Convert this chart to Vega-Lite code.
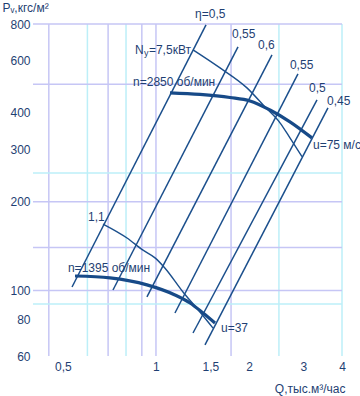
{
  "$schema": "https://vega.github.io/schema/vega-lite/v6.json",
  "width": 309,
  "height": 332,
  "autosize": {"type": "none"},
  "padding": {"left": 33, "top": 24, "right": 18, "bottom": 40},
  "background": "white",
  "config": {
    "view": {"stroke": null},
    "font": "Liberation Sans",
    "axis": {"grid": false, "ticks": false, "domain": false, "labelFont": "Liberation Sans", "labelFontSize": 12, "labelColor": "#1f3f73", "titleFont": "Liberation Sans", "titleFontSize": 12, "titleFontWeight": "normal", "titleColor": "#1f3f73", "labelFlush": false, "labelOverlap": false}
  },
  "datasets": {
    "vgrid": [
      {"Q": 0.45, "k": "p"}, {"Q": 0.6, "k": "c"}, {"Q": 0.7, "k": "p"}, {"Q": 0.8, "k": "c"}, {"Q": 0.9, "k": "p"},
      {"Q": 1, "k": "p"}, {"Q": 1.75, "k": "p"}, {"Q": 2.5, "k": "c"}, {"Q": 4, "k": "c"}
    ],
    "hgrid": [
      {"P": 800, "k": "p"}, {"P": 500, "k": "p"}, {"P": 250, "k": "c"}, {"P": 200, "k": "p"},
      {"P": 140, "k": "p"}, {"P": 100, "k": "p"}, {"P": 90, "k": "c"}
    ],
    "eta": [
      {"id": "a", "Q": 1.452, "P": 794}, {"id": "a", "Q": 0.535, "P": 102.8},
      {"id": "b", "Q": 1.843, "P": 669}, {"id": "b", "Q": 0.726, "P": 100.4},
      {"id": "c", "Q": 2.374, "P": 629}, {"id": "c", "Q": 0.935, "P": 95.1},
      {"id": "d", "Q": 2.881, "P": 542}, {"id": "d", "Q": 1.152, "P": 83.9},
      {"id": "e", "Q": 3.32, "P": 442.5}, {"id": "e", "Q": 1.318, "P": 71.8},
      {"id": "f", "Q": 3.603, "P": 415.7}, {"id": "f", "Q": 1.441, "P": 65.4}
    ],
    "speed": [
      {"n": "2850", "Q": 1.11, "P": 467.6}, {"n": "2850", "Q": 1.388, "P": 462}, {"n": "2850", "Q": 1.736, "P": 451},
      {"n": "2850", "Q": 2.015, "P": 439}, {"n": "2850", "Q": 2.339, "P": 409}, {"n": "2850", "Q": 2.714, "P": 373},
      {"n": "2850", "Q": 3.197, "P": 329},
      {"n": "1395", "Q": 0.547, "P": 112}, {"n": "1395", "Q": 0.71, "P": 110.3}, {"n": "1395", "Q": 0.935, "P": 104.5},
      {"n": "1395", "Q": 1.152, "P": 96.6}, {"n": "1395", "Q": 1.289, "P": 90.7}, {"n": "1395", "Q": 1.42, "P": 83.9},
      {"n": "1395", "Q": 1.553, "P": 77.6}
    ],
    "power": [
      {"N": "7.5", "Q": 1.318, "P": 654}, {"N": "7.5", "Q": 1.612, "P": 568}, {"N": "7.5", "Q": 1.97, "P": 486},
      {"N": "7.5", "Q": 2.253, "P": 419}, {"N": "7.5", "Q": 2.52, "P": 370}, {"N": "7.5", "Q": 2.714, "P": 329},
      {"N": "7.5", "Q": 2.969, "P": 284},
      {"N": "1.1", "Q": 0.674, "P": 168}, {"N": "1.1", "Q": 0.806, "P": 150.7}, {"N": "1.1", "Q": 0.908, "P": 137},
      {"N": "1.1", "Q": 0.993, "P": 129}, {"N": "1.1", "Q": 1.07, "P": 119}, {"N": "1.1", "Q": 1.223, "P": 98.9},
      {"N": "1.1", "Q": 1.388, "P": 84.6}, {"N": "1.1", "Q": 1.53, "P": 74.6}
    ],
    "labels": [
      {"Q": 1.338, "P": 866, "label": "η=0,5"},
      {"Q": 1.762, "P": 741, "label": "0,55"},
      {"Q": 2.139, "P": 680, "label": "0,6"},
      {"Q": 2.714, "P": 582, "label": "0,55"},
      {"Q": 3.127, "P": 486, "label": "0,5"},
      {"Q": 3.577, "P": 439, "label": "0,45"},
      {"Q": 0.843, "P": 509, "label": "n=2850 об/мин"},
      {"Q": 0.603, "P": 177.5, "label": "1,1"},
      {"Q": 0.519, "P": 119, "label": "n=1395 об/мин"},
      {"Q": 3.222, "P": 311.6, "label": "u=75 м/с"},
      {"Q": 1.623, "P": 74.6, "label": "u=37"}
    ],
    "nlabel": [
      {"Q": 0.855, "P": 654, "a": "N", "b": "y", "c": "=7,5кВт"}
    ]
  },
  "layer": [
    {
      "data": {"name": "vgrid"},
      "mark": {"type": "rule", "strokeWidth": 1.5},
      "encoding": {
        "x": {"field": "Q", "type": "quantitative", "scale": {"type": "log", "domain": [0.4, 4], "nice": false},
          "axis": {"values": [0.5, 1, 1.5, 2, 3, 4], "labelExpr": "replace(format(datum.value, '~g'), '.', ',')", "labelPadding": 5, "labelBaseline": "top",
            "title": "Q,тыс.м³/час", "titleX": 312, "titleY": 32, "titleAlign": "right", "titleBaseline": "middle"}},
        "color": {"field": "k", "type": "nominal", "scale": {"domain": ["p", "c"], "range": ["#c6c6f5", "#bdeff8"]}, "legend": null}
      }
    },
    {
      "data": {"name": "hgrid"},
      "mark": {"type": "rule", "strokeWidth": 1.5},
      "encoding": {
        "y": {"field": "P", "type": "quantitative", "scale": {"type": "log", "domain": [60, 800], "nice": false},
          "axis": {"values": [60, 80, 100, 200, 300, 400, 600, 800], "labelPadding": 3,
            "title": "Pᵥ,кгс/м²", "titleAngle": 0, "titleX": -31, "titleY": -17, "titleAlign": "left", "titleBaseline": "middle"}},
        "color": {"field": "k", "type": "nominal", "scale": {"domain": ["p", "c"], "range": ["#c6c6f5", "#bdeff8"]}, "legend": null}
      }
    },
    {
      "data": {"name": "eta"},
      "mark": {"type": "line", "color": "#1b4f8c", "strokeWidth": 1.5},
      "encoding": {
        "x": {"field": "Q", "type": "quantitative", "scale": {"type": "log", "domain": [0.4, 4], "nice": false}},
        "y": {"field": "P", "type": "quantitative", "scale": {"type": "log", "domain": [60, 800], "nice": false}},
        "detail": {"field": "id"}
      }
    },
    {
      "data": {"name": "power"},
      "mark": {"type": "line", "color": "#1b4f8c", "strokeWidth": 1.4, "interpolate": "monotone"},
      "encoding": {
        "x": {"field": "Q", "type": "quantitative", "scale": {"type": "log", "domain": [0.4, 4], "nice": false}},
        "y": {"field": "P", "type": "quantitative", "scale": {"type": "log", "domain": [60, 800], "nice": false}},
        "detail": {"field": "N"}
      }
    },
    {
      "data": {"name": "speed"},
      "mark": {"type": "line", "color": "#174a88", "strokeWidth": 3.2, "interpolate": "monotone"},
      "encoding": {
        "x": {"field": "Q", "type": "quantitative", "scale": {"type": "log", "domain": [0.4, 4], "nice": false}},
        "y": {"field": "P", "type": "quantitative", "scale": {"type": "log", "domain": [60, 800], "nice": false}},
        "detail": {"field": "n"}
      }
    },
    {
      "data": {"name": "labels"},
      "mark": {"type": "text", "align": "left", "baseline": "middle", "fontSize": 12, "color": "#1f3f73", "font": "Liberation Sans"},
      "encoding": {
        "x": {"field": "Q", "type": "quantitative", "scale": {"type": "log", "domain": [0.4, 4], "nice": false}},
        "y": {"field": "P", "type": "quantitative", "scale": {"type": "log", "domain": [60, 800], "nice": false}},
        "text": {"field": "label"}
      }
    },
    {
      "data": {"name": "nlabel"},
      "mark": {"type": "text", "align": "left", "baseline": "middle", "fontSize": 12, "color": "#1f3f73", "font": "Liberation Sans"},
      "encoding": {
        "x": {"field": "Q", "type": "quantitative", "scale": {"type": "log", "domain": [0.4, 4], "nice": false}},
        "y": {"field": "P", "type": "quantitative", "scale": {"type": "log", "domain": [60, 800], "nice": false}},
        "text": {"field": "a"}
      }
    },
    {
      "data": {"name": "nlabel"},
      "mark": {"type": "text", "align": "left", "baseline": "middle", "fontSize": 9, "dx": 9, "dy": 3, "color": "#1f3f73", "font": "Liberation Sans"},
      "encoding": {
        "x": {"field": "Q", "type": "quantitative", "scale": {"type": "log", "domain": [0.4, 4], "nice": false}},
        "y": {"field": "P", "type": "quantitative", "scale": {"type": "log", "domain": [60, 800], "nice": false}},
        "text": {"field": "b"}
      }
    },
    {
      "data": {"name": "nlabel"},
      "mark": {"type": "text", "align": "left", "baseline": "middle", "fontSize": 12, "dx": 14, "color": "#1f3f73", "font": "Liberation Sans"},
      "encoding": {
        "x": {"field": "Q", "type": "quantitative", "scale": {"type": "log", "domain": [0.4, 4], "nice": false}},
        "y": {"field": "P", "type": "quantitative", "scale": {"type": "log", "domain": [60, 800], "nice": false}},
        "text": {"field": "c"}
      }
    }
  ]
}
